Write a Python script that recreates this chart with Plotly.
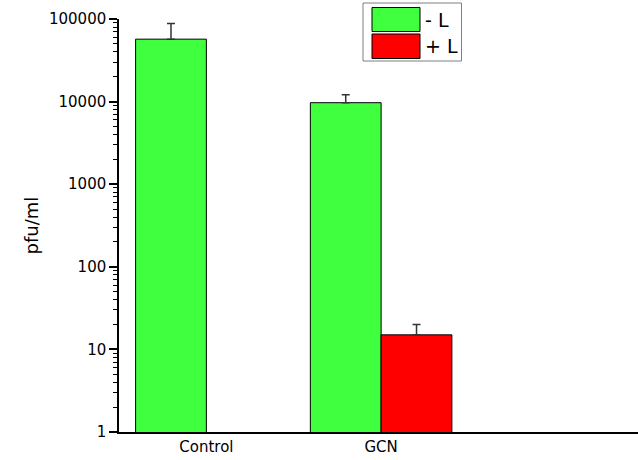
import plotly.graph_objects as go

categories = ["Control", "GCN"]
minus_L_values = [57000, 9700]
minus_L_err = [31000, 2400]
plus_L_categories = ["GCN"]
plus_L_values = [15]
plus_L_err = [5]
series_names = ["- L", "+ L"]
y_tick_vals = [1, 10, 100, 1000, 10000, 100000]
y_tick_text = ["1", "10", "100", "1000", "10000", "100000"]

GREEN = "#3FFF3F"
RED = "#FF0000"
FONT = "DejaVu Sans, Arial, sans-serif"

W, H = 638, 460

fig = go.Figure()
fig.add_trace(go.Bar(
    x=categories, y=minus_L_values, name=series_names[0],
    marker=dict(color=GREEN, line=dict(color="black", width=1)),
    error_y=dict(type="data", array=minus_L_err, arrayminus=[0] * len(minus_L_err),
                 symmetric=False, color="#333333", thickness=1.5, width=4),
    showlegend=False,
))
fig.add_trace(go.Bar(
    x=plus_L_categories, y=plus_L_values, name=series_names[1],
    marker=dict(color=RED, line=dict(color="black", width=1)),
    error_y=dict(type="data", array=plus_L_err, arrayminus=[0] * len(plus_L_err),
                 symmetric=False, color="#333333", thickness=1.5, width=4),
    showlegend=False,
))

# plot-area edges in screen pixels (reference)
L, R, T, B = 119, 638, 19, 432
def px(x):
    return (x - L) / (R - L)
def py(y):
    return (B - y) / (B - T)

shapes = [
    dict(type="rect", xref="paper", yref="paper", x0=px(363), x1=px(461.5), y0=py(61), y1=py(3),
         line=dict(color="#7f7f7f", width=1), fillcolor="white", layer="above"),
    dict(type="rect", xref="paper", yref="paper", x0=px(372), x1=px(420), y0=py(31.5), y1=py(7.5),
         line=dict(color="black", width=1), fillcolor=GREEN, layer="above"),
    dict(type="rect", xref="paper", yref="paper", x0=px(372), x1=px(420), y0=py(58.5), y1=py(34),
         line=dict(color="black", width=1), fillcolor=RED, layer="above"),
]
annotations = [
    dict(xref="paper", yref="paper", x=px(423), y=py(19.5), xanchor="left", yanchor="middle",
         text=series_names[0], showarrow=False, font=dict(family=FONT, size=19, color="black")),
    dict(xref="paper", yref="paper", x=px(423), y=py(46), xanchor="left", yanchor="middle",
         text=series_names[1], showarrow=False, font=dict(family=FONT, size=19, color="black")),
]

fig.update_layout(
    width=W, height=H,
    margin=dict(l=L, r=W - R, t=T, b=H - B, pad=0),
    paper_bgcolor="white", plot_bgcolor="white",
    barmode="group", bargap=0.19, bargroupgap=0,
    font=dict(family=FONT, size=15, color="black"),
    shapes=shapes, annotations=annotations,
    xaxis=dict(
        type="category", range=[-0.5, 2.47],
        showline=True, linecolor="black", linewidth=1.5,
        ticks="", showgrid=False, zeroline=False,
        tickfont=dict(family=FONT, size=15, color="black"),
    ),
    yaxis=dict(
        type="log", range=[0, 5],
        tickvals=y_tick_vals, ticktext=y_tick_text,
        showline=True, linecolor="black", linewidth=1.5,
        ticks="outside", ticklen=8, tickwidth=1.5, tickcolor="black",
        minor=dict(ticks="outside", ticklen=4, tickwidth=1, tickcolor="black", dtick="D1", showgrid=False),
        showgrid=False, zeroline=False,
        tickfont=dict(family=FONT, size=15, color="black"),
        title=dict(text="pfu/ml", font=dict(family=FONT, size=18, color="black"), standoff=6),
    ),
)

fig.write_html(
    "out.html",
    config={"displayModeBar": False},
    post_script="document.body.style.margin='0';document.body.style.overflow='hidden';",
)
